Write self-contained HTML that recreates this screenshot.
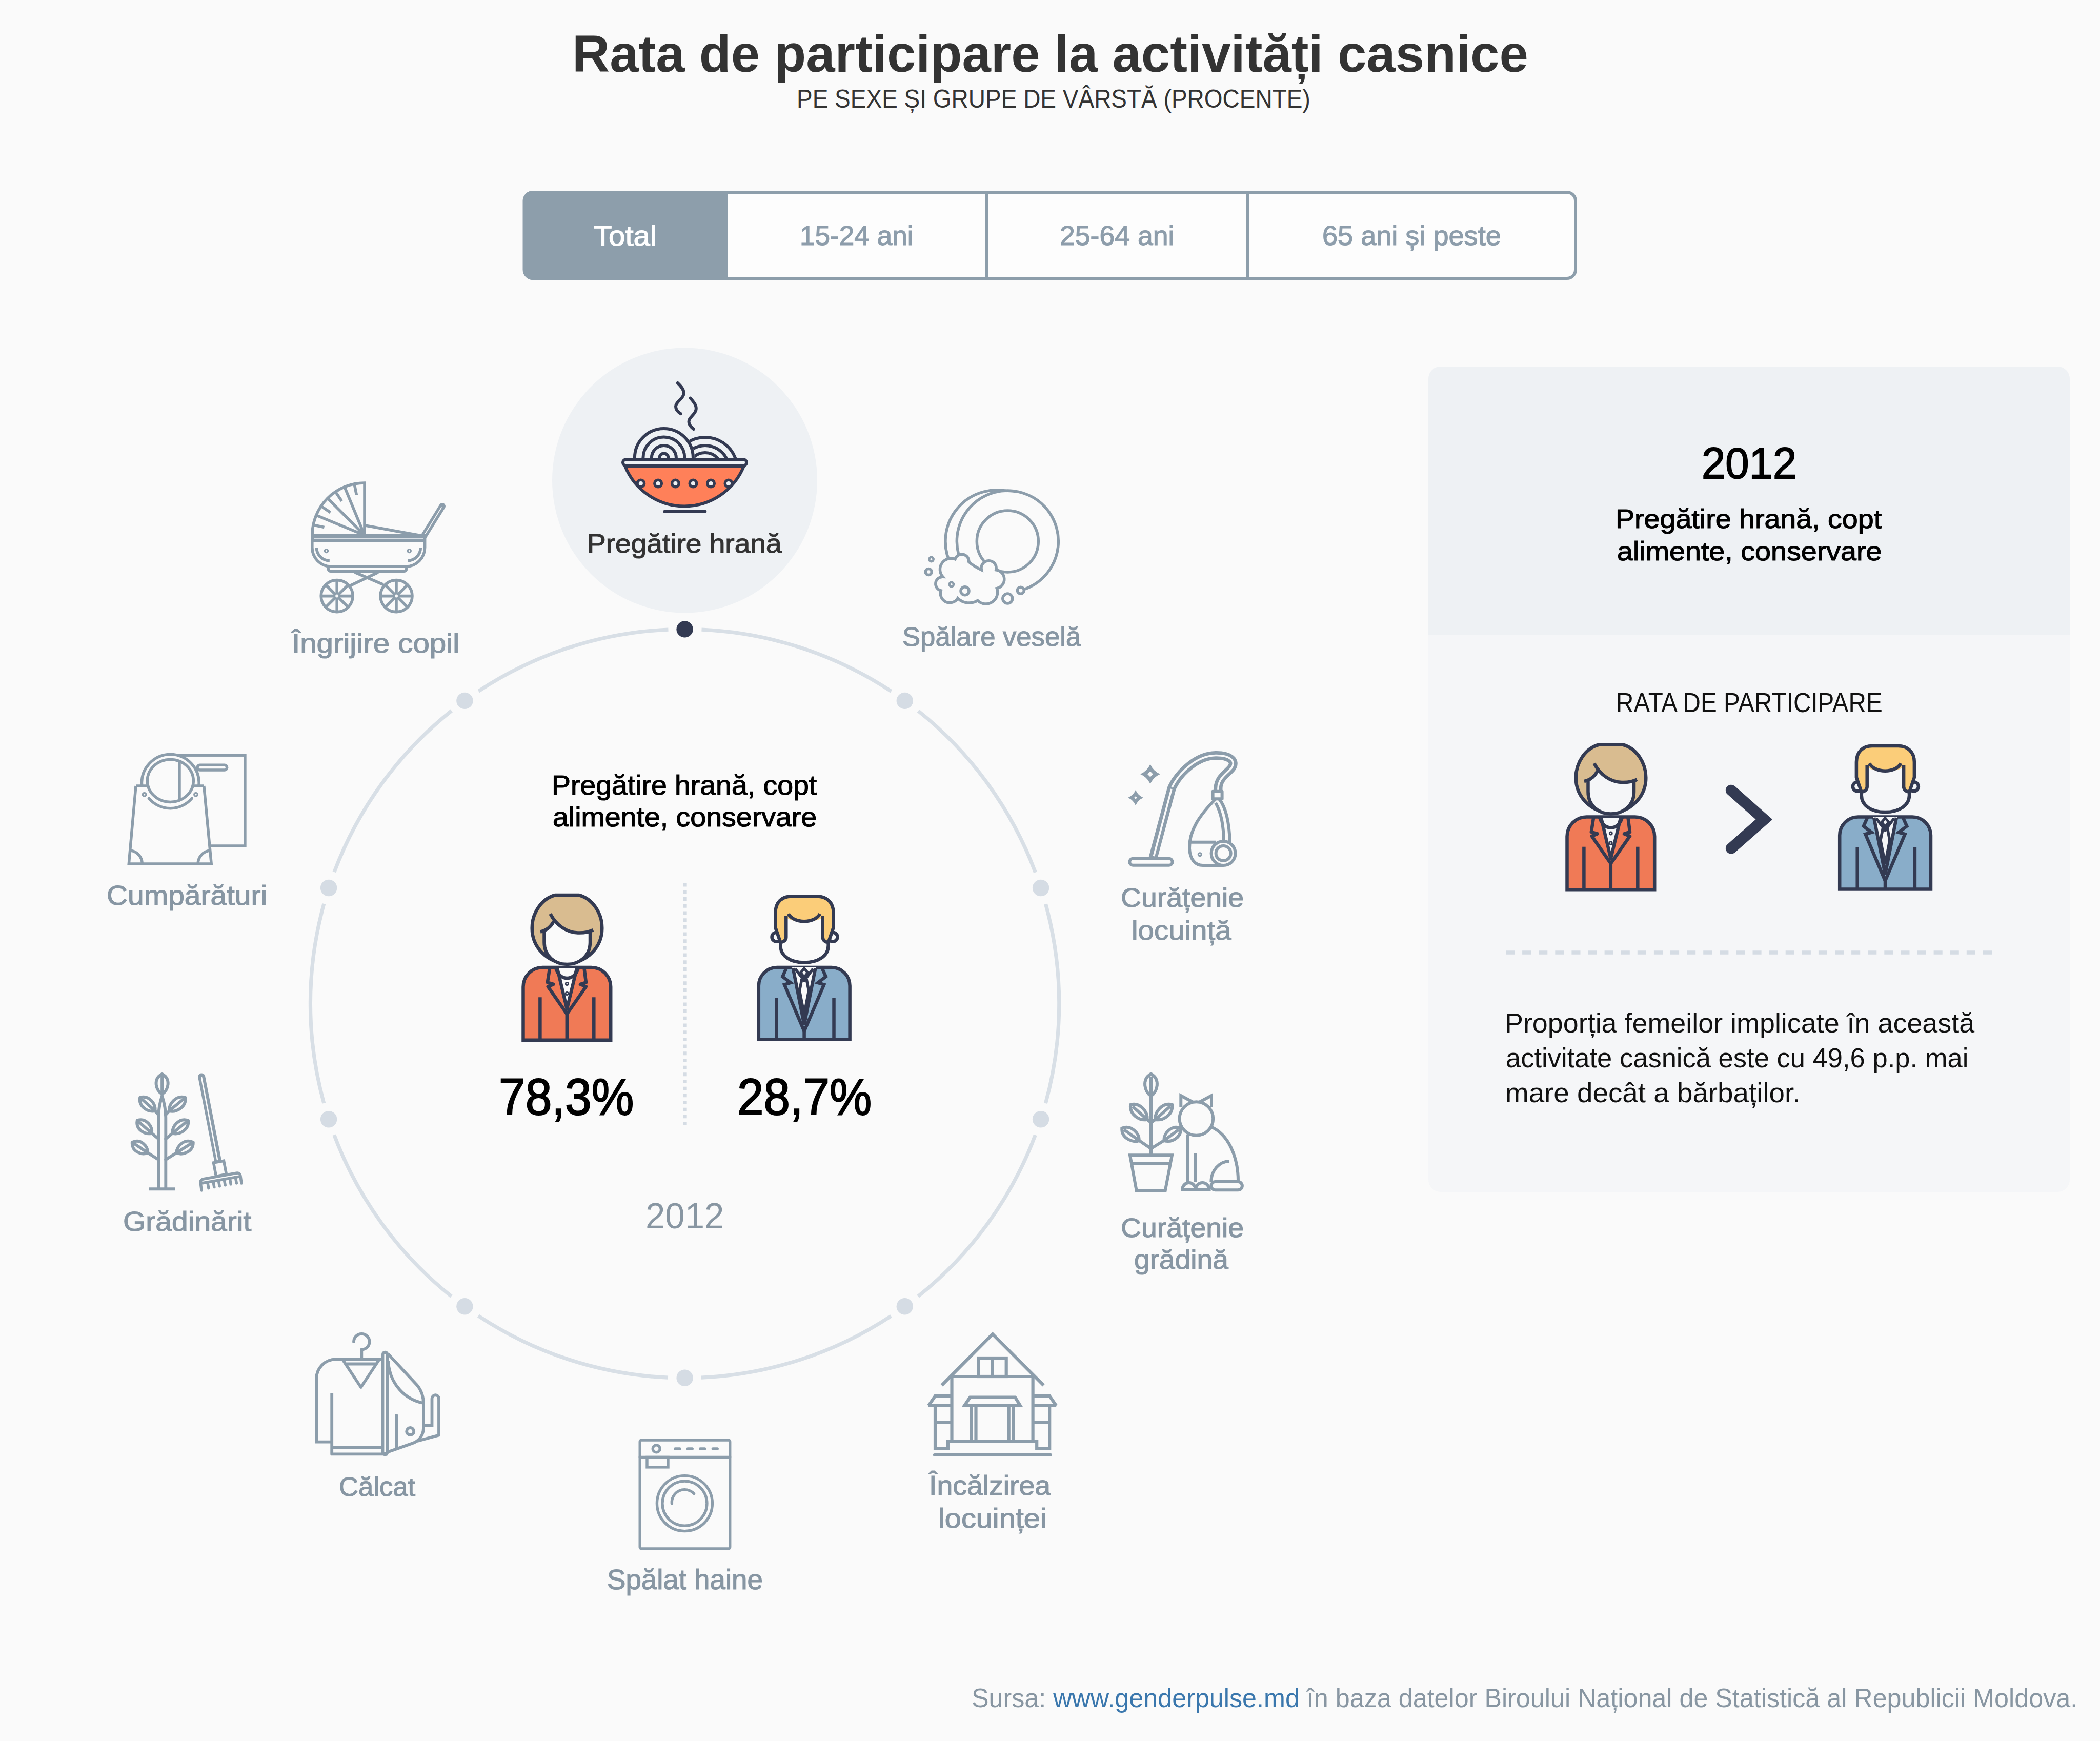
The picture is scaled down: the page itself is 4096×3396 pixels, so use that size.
<!DOCTYPE html>
<html><head><meta charset="utf-8"><title>Rata de participare la activități casnice</title>
<style>html,body{margin:0;padding:0;width:4096px;height:3396px;overflow:hidden;background:#fafafa}
.t{position:absolute;white-space:nowrap;line-height:1;font-family:"Liberation Sans",sans-serif;transform-origin:0 0;}</style></head><body>

<svg width="4096" height="3396" viewBox="0 0 4096 3396" style="position:absolute;left:0;top:0;--face:#fafafa">
 <!-- tabs -->
 <rect x="1022.5" y="375" width="2050.5" height="168" rx="17" fill="#fdfdfd" stroke="#8d9eab" stroke-width="6"/>
 <path d="M1420,372 L1040,372 A20,20 0 0 0 1020,392 L1020,526 A20,20 0 0 0 1040,546 L1420,546 Z" fill="#8d9eab"/>
 <path d="M1924.7,372 L1924.7,546 M2433.3,372 L2433.3,546" stroke="#8d9eab" stroke-width="6"/>
 <!-- highlight circle -->
 <circle cx="1335.5" cy="937" r="258.5" fill="#eef1f4"/>
 <circle cx="1335.6" cy="1957.6" r="730.2" fill="none" stroke="#d8dfe6" stroke-width="7.2" stroke-dasharray="393.80 65.00" stroke-dashoffset="196.90"/>
 <circle cx="1335.6" cy="1227.4" r="16.2" fill="#333a52"/><circle cx="1764.8" cy="1366.9" r="16.2" fill="#d5dce4"/><circle cx="2030.1" cy="1732.0" r="16.2" fill="#d5dce4"/><circle cx="2030.1" cy="2183.2" r="16.2" fill="#d5dce4"/><circle cx="1764.8" cy="2548.3" r="16.2" fill="#d5dce4"/><circle cx="1335.6" cy="2687.8" r="16.2" fill="#d5dce4"/><circle cx="906.4" cy="2548.3" r="16.2" fill="#d5dce4"/><circle cx="641.1" cy="2183.2" r="16.2" fill="#d5dce4"/><circle cx="641.1" cy="1732.0" r="16.2" fill="#d5dce4"/><circle cx="906.4" cy="1366.9" r="16.2" fill="#d5dce4"/>
 <path d="M1335.9,1722.7 L1335.9,2196" stroke="#d5dce4" stroke-width="7.5" stroke-dasharray="6.9 6.79"/>
 <!-- panel -->
 <rect x="2786" y="715" width="1251" height="1610" rx="24" fill="#f5f6f8"/>
 <path d="M2786,1239 L2786,739 A24,24 0 0 1 2810,715 L4013,715 A24,24 0 0 1 4037,739 L4037,1239 Z" fill="#eef1f4"/>
 <path d="M2937,1858 L3887,1858" stroke="#d5dce4" stroke-width="7.6" stroke-dasharray="17.1 15"/>
 <path d="M3376.7,1541.5 L3440.8,1598.4 L3376.7,1654.8" fill="none" stroke="#333a52" stroke-width="21.7" stroke-linecap="round" stroke-linejoin="miter"/>
 
<g fill="none" stroke="#333a52" stroke-width="6" stroke-linecap="round" stroke-linejoin="round">
 <path d="M1321.7,747 C1329,754 1335,761 1333.5,769 C1332,778 1318,784 1318,793 C1318,799 1323,804 1327.8,807"/>
 <path d="M1346.6,776.6 C1353,784 1359,791 1357.6,799 C1356,809 1343,814 1343.5,823 C1344,830 1349,834 1353,837"/>
 <path d="M1316.6,893 A63,63 0 0 1 1434,893"/>
 <path d="M1334.3,893 A47,47 0 0 1 1416.3,893"/>
 <path d="M1351.6,893 A33,33 0 0 1 1399,893"/>
 <path d="M1234.9,893 A60,60 0 0 1 1354.9,893 Z" fill="#eef1f4" stroke="none"/>
 <path d="M1237.9,893 A57,57 0 0 1 1351.9,893"/>
 <path d="M1254.4,893 A40.5,40.5 0 0 1 1335.4,893"/>
 <path d="M1270.9,893 A24,24 0 0 1 1318.9,893"/>
 <path d="M1286.4,893 A8.5,8.5 0 0 1 1303.4,893"/>
 <path d="M1219,909 A125,125 0 0 0 1451,909 Z" fill="#ff8059"/>
 <rect x="1215" y="896" width="241" height="12.5" rx="6.25" fill="#eef1f4"/>
 <g fill="#eef1f4" stroke-width="5.5">
  <circle cx="1249.8" cy="943" r="6.8"/><circle cx="1283.6" cy="943" r="6.8"/><circle cx="1317.4" cy="943" r="6.8"/>
  <circle cx="1352" cy="943" r="6.8"/><circle cx="1386.5" cy="943" r="6.8"/><circle cx="1421" cy="943" r="6.8"/>
 </g>
 <path d="M1296.5,997.7 L1375.3,997.7"/>
</g>
 
<g fill="none" stroke="#8c9dab" stroke-width="5.6" stroke-linejoin="miter">
 <path d="M711,1044 L711,942 A102,102 0 0 0 609,1044"/>
 <path d="M711,1044 L616.8,1005.0 M711,1044 L638.9,971.9 M711,1044 L672.0,949.8 M632.5,1028.4 L611.0,1024.1 M644.5,999.6 L626.2,987.3 M666.6,977.5 L654.3,959.2 M695.4,965.5 L691.1,944.0 "/>
 <path d="M713.6,1025.3 L818.5,1044.3"/>
 <path d="M826,1046.8 L862.7,987.4" stroke-width="12.5" stroke-linecap="round"/>
 <path d="M829.5,1041 L861,990" stroke="#fafafa" stroke-width="1.6" stroke-linecap="round"/>
 <rect x="611" y="1042" width="215" height="15.3" fill="#8c9dab" stroke="none"/>
 <path d="M612,1050.6 L825,1050.6" stroke="#d9dfe5" stroke-width="1.6"/>
 <path d="M608.8,1040 L608.8,1068 A37,37 0 0 0 645.8,1105 L791.6,1105 A37,37 0 0 0 828.6,1068 L828.6,1046"/>
 <path d="M617.5,1068.3 A25.3,25.3 0 0 0 642.8,1093.6 M795,1093.6 A25.3,25.3 0 0 0 820.3,1068.3"/>
 <circle cx="636.5" cy="1074.6" r="3.2" stroke-width="3"/><circle cx="798.3" cy="1074.6" r="3.2" stroke-width="3"/>
 <path d="M640,1105 L640,1108 Q640,1114.5 647,1114.5 L786,1114.5 Q793,1114.5 793,1108 L793,1105"/>
 <path d="M692,1116.4 L747.7,1140.4 M737.6,1116.4 L682,1142.9"/>
 <circle cx="657.2" cy="1162.6" r="31"/><path d="M688.2,1162.6 L626.2,1162.6"/><path d="M679.1,1140.7 L635.3,1184.5"/><path d="M657.2,1131.6 L657.2,1193.6"/><path d="M635.3,1140.7 L679.1,1184.5"/><circle cx="657.2" cy="1162.6" r="3" fill="#fafafa" stroke="none"/><circle cx="773.0" cy="1162.6" r="31"/><path d="M804.0,1162.6 L742.0,1162.6"/><path d="M794.9,1140.7 L751.1,1184.5"/><path d="M773.0,1131.6 L773.0,1193.6"/><path d="M751.1,1140.7 L794.9,1184.5"/><circle cx="773.0" cy="1162.6" r="3" fill="#fafafa" stroke="none"/>
</g>
 
<g fill="none" stroke="#8c9dab" stroke-width="5.5" stroke-linecap="round">
 <path d="M1978.2,962 A100,100 0 0 0 1857.4,1106"/>
 <circle cx="1965.3" cy="1056" r="96" fill="#fafafa" stroke="none"/>
 <path d="M1990.9,1151.6 A99,99 0 1 0 1869.7,1081.6"/>
 <circle cx="1965.3" cy="1056" r="60"/>
 <path fill="#fafafa" stroke-linejoin="miter" d="M1839,1125.2 A21.5,21.5 0 0 1 1862.9,1090.8 A13.8,13.8 0 0 1 1889.8,1096 Q1898,1104 1914.4,1111.7 A14.6,14.6 0 1 1 1942.8,1111.7 A18.2,18.2 0 0 1 1944.3,1147.6 A22.7,22.7 0 0 1 1906.9,1171.4 A31.7,31.7 0 0 1 1868.1,1167 A18.2,18.2 0 0 1 1835.2,1152 A13.6,13.6 0 0 1 1839,1125.2 Z"/>
 <circle cx="1816.5" cy="1091" r="4.2" stroke-width="4.5"/>
 <circle cx="1811.2" cy="1115.5" r="6"/>
 <circle cx="1855.8" cy="1140" r="4.2" stroke-width="4.5"/>
 <circle cx="1882" cy="1152.7" r="8"/>
 <circle cx="1965.3" cy="1167.6" r="9.5"/>
 <circle cx="1990.8" cy="1151.7" r="6.5" fill="#fafafa"/>
</g>
 
<g fill="none" stroke="#8c9dab" stroke-width="5.5">
 <rect x="350" y="1473.2" width="127.9" height="176.8" fill="#fafafa"/>
 <rect x="385" y="1492.3" width="57.7" height="9.8" rx="4.9"/>
 <path d="M276.8,1533 A55.8,55.8 0 1 1 387.8,1533" fill="#fafafa"/>
 <path d="M265,1533 L251.3,1685 L412.2,1685 L397.8,1533 Z" fill="#fafafa" stroke="none"/>
 <path d="M265,1533 L251.3,1685 L412.2,1685 L397.8,1533"/>
 <path d="M265,1533 L290,1533 M374.6,1533 L397.8,1533"/>
 <ellipse cx="332.3" cy="1523" rx="45" ry="41.5"/>
 <path d="M350,1483 L350,1562"/>
 <path d="M290.4,1557.2 A54.7,54.7 0 0 0 374.2,1557.2" stroke-linecap="round"/>
 <circle cx="281.6" cy="1549.8" r="3.3" stroke-width="3.2"/><circle cx="382" cy="1549.8" r="3.3" stroke-width="3.2"/>
 <path d="M253.6,1659 A26,26 0 0 1 277.3,1685 M386.2,1685 A26,26 0 0 1 410,1659"/>
</g>
 
<g fill="none" stroke="#8c9dab" stroke-width="6" stroke-linejoin="round">
 <rect x="2203.3" y="1674.7" width="83.3" height="13" rx="6.5"/>
 <path d="M2248.5,1675 L2285.5,1537 C2300,1506 2335,1474 2371,1473.5 C2398,1473 2412,1484 2402,1498 C2392,1510 2376,1518 2376,1538 L2376,1546" stroke-width="17"/>
 <path d="M2250.5,1670 L2285.5,1537 C2300,1506 2335,1474 2371,1473.5 C2398,1473 2412,1484 2402,1498 C2392,1510 2376,1518 2376,1538 L2376,1543" stroke="#fafafa" stroke-width="3.6"/>
 <path d="M2278,1535 L2293,1540" stroke-width="3"/>
 <rect x="2365.6" y="1543.8" width="18" height="14.4" fill="#fafafa"/>
 <path d="M2371,1558.5 C2340,1590 2319,1620 2320,1655 C2321,1676 2331,1688 2346,1688 L2385,1688" fill="#fafafa"/>
 <path d="M2378,1558.5 C2393,1577 2398,1610 2399,1645"/>
 <path d="M2371,1566 C2382,1585 2387,1615 2387,1645"/>
 <path d="M2321,1642.7 L2372,1642.7"/>
 <circle cx="2386.1" cy="1664.4" r="23.5" fill="#fafafa"/>
 <circle cx="2386.1" cy="1664.4" r="14.5"/>
 <circle cx="2340.3" cy="1666.8" r="3" stroke-width="3.2"/>
 <path d="M2243.5,1490.4 Q2249.3,1504.1 2263.0,1509.9 Q2249.3,1515.8 2243.5,1529.4 Q2237.7,1515.8 2224.0,1509.9 Q2237.7,1504.1 2243.5,1490.4 Z M2243.5,1504.4 L2238.0,1509.9 L2243.5,1515.4 L2249.0,1509.9 Z" fill="#8c9dab" fill-rule="evenodd" stroke="none"/>
 <path d="M2215.0,1541.0 Q2219.5,1551.5 2230.0,1556.0 Q2219.5,1560.5 2215.0,1571.0 Q2210.5,1560.5 2200.0,1556.0 Q2210.5,1551.5 2215.0,1541.0 Z M2215.0,1553.2 L2212.2,1556.0 L2215.0,1558.8 L2217.8,1556.0 Z" fill="#8c9dab" fill-rule="evenodd" stroke="none"/>
</g>
 
<g fill="none" stroke="#8c9dab" stroke-width="5.9" stroke-linecap="round" stroke-linejoin="round">
 <path d="M309.1,2317.6 L309.1,2180 C309.1,2165 312,2150 316.1,2137.5 C320,2150 323.3,2165 323.3,2180 L323.3,2317.6"/>
 <path d="M290.6,2319.3 L341.9,2319.3" stroke-linecap="butt"/>
 <path d="M316.1,2094.9 C298.1,2104.7 303.5,2126.3 316.1,2134.2 C328.7,2126.3 334.1,2104.7 316.1,2094.9 Z M316.1,2099.6 L316.1,2134.2"/>
 <path d="M273.1,2140.8 C269.9,2159.3 289.3,2170.1 302.6,2167.0 C304.1,2153.4 291.1,2135.4 273.1,2140.8 Z M276.6,2143.9 L302.6,2167.0 M302.6,2167.0 L309.1,2174.6"/><path d="M267.7,2185.5 C264.2,2203.7 282.9,2213.9 296.0,2210.6 C297.8,2197.2 285.4,2179.8 267.7,2185.5 Z M271.1,2188.5 L296.0,2210.6 M296.0,2210.6 L309.1,2221.5"/><path d="M257.8,2228.1 C256.5,2246.5 276.0,2253.9 288.4,2248.8 C288.5,2235.4 274.4,2220.1 257.8,2228.1 Z M261.5,2230.6 L288.4,2248.8 M288.4,2248.8 L309.1,2261.9"/><path d="M361.5,2140.8 C343.4,2135.1 329.1,2153.2 329.9,2167.0 C343.4,2170.4 363.8,2159.6 361.5,2140.8 Z M357.7,2143.9 L329.9,2167.0 M329.9,2167.0 L323.3,2174.6"/><path d="M367.0,2185.5 C349.2,2179.4 335.4,2196.9 336.4,2210.6 C349.6,2214.2 369.5,2204.1 367.0,2185.5 Z M363.3,2188.5 L336.4,2210.6 M336.4,2210.6 L323.3,2221.5"/><path d="M376.8,2228.1 C360.1,2219.8 344.7,2235.2 344.1,2248.8 C356.6,2254.1 377.2,2246.8 376.8,2228.1 Z M372.9,2230.6 L344.1,2248.8 M344.1,2248.8 L323.3,2261.9"/>
 <path d="M393.2,2100.4 L425,2264" stroke-width="14"/>
 <path d="M393.2,2102 L424,2262" stroke="#fafafa" stroke-width="2.6"/>
 <path d="M416.5,2268 L436.5,2264.3 L441.5,2290.5 L421.5,2294.4 Z" stroke-width="5.5" fill="#fafafa" stroke-linejoin="miter"/>
 <path d="M393.1,2322 L391.3,2308 Q390.3,2301 397,2299.7 L461,2288.2 Q468,2287 469,2294 L471,2308" stroke-width="5.5" fill="none"/>
 <path d="M395,2307.8 L465,2295.4" stroke-width="5.5"/>
 <path d="M404.8,2306.1 L406.8,2317.6 M415.8,2304.1 L417.8,2315.6 M426.2,2302.3 L428.2,2313.8 M437.2,2300.3 L439.2,2311.8 M448.2,2298.4 L450.2,2309.9 M459.3,2296.4 L461.3,2307.9 " stroke-width="5.5"/>
</g>
 
<g fill="none" stroke="#8c9dab" stroke-width="6" stroke-linejoin="miter">
 <path d="M2204,2253.3 L2286,2253.3 L2272.7,2322.5 L2216.7,2322.5 Z M2207,2269.4 L2283,2269.4"/>
 <path d="M2245,2113.8 L2245,2253.3"/>
 <path d="M2245.0,2094.5 C2226.4,2105.3 2232.0,2129.2 2245.0,2137.9 C2258.0,2129.2 2263.6,2105.3 2245.0,2094.5 Z M2245.0,2099.7 L2245.0,2137.9"/>
 <path d="M2205.2,2154.8 C2202.3,2174.5 2223.5,2186.7 2237.7,2183.8 C2238.9,2169.3 2224.4,2149.6 2205.2,2154.8 Z M2209.1,2158.3 L2237.7,2183.8 M2237.7,2183.8 L2245.0,2189.8"/><path d="M2286.0,2154.8 C2266.8,2149.6 2252.2,2169.3 2253.4,2183.8 C2267.7,2186.7 2288.9,2174.5 2286.0,2154.8 Z M2282.1,2158.3 L2253.4,2183.8 M2253.4,2183.8 L2245.0,2189.8"/><path d="M2188.3,2200.7 C2187.1,2220.2 2208.5,2229.4 2222.0,2224.8 C2222.0,2210.5 2206.4,2193.2 2188.3,2200.7 Z M2192.3,2203.6 L2222.0,2224.8 M2222.0,2224.8 L2245.0,2240.5"/><path d="M2302.9,2200.7 C2284.9,2193.4 2269.9,2210.6 2270.3,2224.8 C2283.7,2229.3 2304.6,2220.1 2302.9,2200.7 Z M2299.0,2203.6 L2270.3,2224.8 M2270.3,2224.8 L2245.0,2240.5"/>
 <path d="M2303.3,2160 L2303.3,2137 L2327,2150 M2339,2150 L2363,2137 L2363,2160"/>
 <circle cx="2333.4" cy="2182" r="32.8" fill="#fafafa"/>
 <path d="M2316.2,2213 L2316.2,2320"/>
 <path d="M2362,2198 C2395,2212 2415,2255 2415,2304"/>
 <path d="M2331.8,2250 L2331.8,2306"/>
 <path d="M2362.4,2305 A36,40 0 0 1 2398,2265"/>
 <path d="M2306,2321 A13,14 0 0 1 2332,2321 A13.3,14 0 0 1 2358.6,2321 Z" fill="#fafafa"/>
 <rect x="2362.4" y="2305" width="60.5" height="16.2" rx="8.1" fill="#fafafa"/>
</g>
 
<g fill="none" stroke="#8c9dab" stroke-width="5.8" stroke-linejoin="round">
 <path d="M690,2617.2 A15.3,15.3 0 1 1 705.3,2632.5 L705.3,2651" stroke-linecap="round"/>
 <path d="M745.4,2651.3 L655,2651.3 A37.8,37.8 0 0 0 617.2,2689 L617.2,2812.6 L647.2,2812.6" stroke-linejoin="miter"/>
 <path d="M647.2,2717.5 L647.2,2836.4 L756,2836.4 M647.2,2824 L745.4,2824"/>
 <path d="M668.9,2653 L704,2706 L739,2653 M674,2660.5 L733,2660.5"/>
 <path d="M757,2641 L813.6,2702 C822,2712 826,2725 826,2739 L826,2785 C826,2800 817,2812 803.3,2815.7 L756.8,2832.2" fill="#fafafa"/>
 <path d="M751.1,2642 L751.1,2833" stroke-width="14.5" stroke-linecap="round"/>
 <path d="M751.1,2642 L751.1,2833" stroke="#fafafa" stroke-width="3.4"/>
 <path d="M757,2655 C760,2700 790,2730 826,2737"/>
 <path d="M773.3,2761 L773.3,2823" stroke-linecap="round"/>
 <circle cx="800.2" cy="2792" r="7"/>
 <path d="M826,2780.5 L842.5,2780.5 L842.5,2728 A6.7,6.7 0 0 1 856,2728 L856,2799.5 L814,2811" stroke-linejoin="miter"/>
</g>
 
<g fill="none" stroke="#8c9dab" stroke-width="5.4" stroke-linecap="round">
 <rect x="1248.2" y="2809" width="175.5" height="212" rx="3"/>
 <path d="M1248.2,2842.5 L1423.7,2842.5"/>
 <circle cx="1280.2" cy="2825.9" r="7"/>
 <path d="M1317,2825.9 L1325.8,2825.9 M1341.4,2825.9 L1350.2,2825.9 M1365.8,2825.9 L1374.6,2825.9 M1390.4,2825.9 L1399.2,2825.9" stroke-width="5.5"/>
 <rect x="1262" y="2842.5" width="41" height="19.4" stroke-linecap="butt"/>
 <circle cx="1335.4" cy="2932.6" r="54"/>
 <circle cx="1335.4" cy="2932.6" r="43.5"/>
 <path d="M1310.4,2933 A25,25 0 0 1 1353.5,2913.5"/>
</g>
 
<g fill="none" stroke="#8c9dab" stroke-width="6.2" stroke-linejoin="miter">
 <path d="M1836.8,2702.2 L1936,2602.2 L2035.6,2702.2" stroke-linecap="butt"/>
 <path d="M1856.5,2685 L2014.6,2685 M1856.5,2682 L1856.5,2812 M2014.6,2682 L2014.6,2812 M1849,2812 L2022,2812"/>
 <rect x="1908.4" y="2649" width="54.3" height="36"/>
 <path d="M1935.5,2649 L1935.5,2685"/>
 <polyline points="1851.6,2812.0 1849.0,2812.0 1849.0,2825.7 1824.0,2825.7 1824.0,2742.0"/>
 <polyline points="2019.6,2812.0 2022.2,2812.0 2022.2,2825.7 2047.2,2825.7 2047.2,2742.0"/>
 <path d="M1811,2742 L1824,2723.2 L1856.5,2723.2 M1811,2742 L1856.5,2742 M1824,2775 L1856.5,2775"/>
 <path d="M2060.2,2742 L2047.2,2723.2 L2014.6,2723.2 M2060.2,2742 L2014.6,2742 M2047.2,2775 L2014.6,2775"/>
 <path d="M1881,2742 L1892,2725.7 L1980,2725.7 L1990,2742 Z"/>
 <path d="M1894.8,2742 L1894.8,2812 M1903.5,2742 L1903.5,2812 M1967.7,2742 L1967.7,2812 M1976.3,2742 L1976.3,2812"/>
 <path d="M1823,2838 L2049,2838" stroke-linecap="round"/>
</g>
 
<g id="woman" stroke="#333a52" stroke-width="6.5" stroke-linejoin="round">
 <path d="M1020.5,2028.8 L1020.5,1925 A38,38 0 0 1 1058.5,1887 L1153.2,1887 A38,38 0 0 1 1191.2,1925 L1191.2,2028.8 Z" fill="#f07a56" stroke-linejoin="miter"/>
 <path d="M1087,1889 L1105.8,1968 L1125,1889 Z" fill="var(--face)" stroke="none"/>
 <path d="M1084,1888 C1088,1902 1097,1908 1106,1908 C1115,1908 1124,1902 1128,1888" fill="none"/>
 <path d="M1072.3,1887.4 L1067.8,1916.3 L1079.6,1919.9 L1068.7,1924.4 L1105.8,1977.8 L1143,1924.4 L1132,1919.9 L1143,1916.3 L1139.3,1887.4" fill="none"/>
 <path d="M1087,1889 L1105.8,1968 L1125,1889" fill="none"/>
 <circle cx="1105.8" cy="1919" r="2.6" fill="var(--face)" stroke-width="2.6"/>
 <circle cx="1105.8" cy="1938" r="2.6" fill="var(--face)" stroke-width="2.6"/>
 <path d="M1105.8,1977.8 L1105.8,2028 M1053.4,1945.2 L1053.4,2028 M1158.3,1945.2 L1158.3,2028" fill="none"/>
 <path d="M1083,1746 L1129,1746 C1156,1753 1174.3,1781 1174.3,1810.5 A68.3,68.3 0 0 1 1037.7,1810.5 C1037.7,1781 1056,1753 1083,1746 Z" fill="#d9bc90"/>
 <path d="M1061.5,1816 C1068,1812 1075,1805 1079.6,1797 C1090,1812 1110,1819 1130,1819 C1140,1819 1148,1817 1151,1816 L1151,1838 C1151,1865 1130,1881 1106,1881 C1082,1881 1061.5,1865 1061.5,1838 Z" fill="var(--face)" stroke="none"/>
 <path d="M1061.5,1816 L1061.5,1838 C1061.5,1865 1082,1881 1106,1881 C1130,1881 1151,1865 1151,1838 L1151,1814" fill="none"/>
 <path d="M1054,1817.5 C1066,1815 1075,1807 1080,1797" fill="none" stroke-linecap="butt"/>
 <path d="M1073.3,1782.5 C1085,1805 1105,1818.5 1127,1819.5 C1140,1820 1150,1817.5 1157,1814" fill="none" stroke-linecap="butt"/>
</g>
 
<g id="man" stroke="#333a52" stroke-width="6.5" stroke-linejoin="round">
 <path d="M1479.8,2027.8 L1479.8,1923 A36,36 0 0 1 1515.8,1887 L1621.6,1887 A36,36 0 0 1 1657.6,1923 L1657.6,2027.8 Z" fill="#89adc9" stroke-linejoin="miter"/>
 <path d="M1545,1887 L1568.6,1980 L1592,1887 Z" fill="var(--face)" stroke="none"/>
 <path d="M1533.8,1888.4 L1526.4,1905 L1542,1917 L1530,1920.5 L1568.6,2011.5 L1607.2,1920.5 L1595.2,1917 L1610.8,1905 L1603.4,1888.4" fill="none" stroke-linejoin="miter"/>
 <path d="M1546.7,1888.4 L1568.6,1998.7 L1590.5,1888.4" fill="none" stroke-linejoin="miter"/>
 <path d="M1563.5,1912 L1559.5,1932.5 L1568.6,1978.5 L1577.5,1932.5 L1573.5,1912 Z" fill="var(--face)" stroke-width="5.5" stroke-linejoin="miter"/>
 <path d="M1551,1889.5 L1568.6,1913 L1586,1889.5" fill="none" stroke-width="5.5"/>
 <path d="M1568.6,1889 L1575.5,1897 L1568.6,1906 L1561.7,1897 Z" fill="var(--face)" stroke-width="5"/>
 <path d="M1568.6,2008 L1568.6,2027 M1514.3,1946.2 L1514.3,2027 M1626.5,1946.2 L1626.5,2027" fill="none"/>
 <circle cx="1514.5" cy="1827.7" r="9" fill="var(--face)"/>
 <circle cx="1624.5" cy="1827.7" r="9" fill="var(--face)"/>
 <path d="M1522.4,1838.6 L1512.5,1809.6 L1512.5,1780 C1512.5,1760 1525,1748.5 1543.2,1748.5 L1593.9,1748.5 C1612,1748.5 1625.5,1760 1625.5,1780 L1625.5,1809.6 L1615.6,1838.6 Z" fill="#fbcd79"/>
 <path d="M1533.3,1789 C1545,1801 1592,1801 1604.7,1789 L1604.7,1828 C1604.7,1834 1610,1838 1615.6,1838 L1615.6,1845 C1615.6,1865 1595,1877.5 1568.6,1877.5 C1542,1877.5 1522.4,1865 1522.4,1845 L1522.4,1838 C1528,1838 1533.3,1834 1533.3,1828 Z" fill="var(--face)" stroke="none"/><path d="M1533.3,1786 L1533.3,1828 C1533.3,1834 1528,1838 1522.4,1838 L1522.4,1845 C1522.4,1865 1542,1877.5 1568.6,1877.5 C1595,1877.5 1615.6,1865 1615.6,1845 L1615.6,1838 C1610,1838 1604.7,1834 1604.7,1828 L1604.7,1786" fill="none"/>
 <path d="M1537.8,1782.5 C1548,1802 1589,1802 1599.3,1782.5" fill="none" stroke-linecap="butt"/>
</g>
 <use href="#woman" transform="translate(2036,-293.5)" style="--face:#f5f6f8"/>
 <use href="#man" transform="translate(2108.4,-293.4)" style="--face:#f5f6f8"/>
</svg>
<div class="t" style="left:1116.02px;top:54.85px;font-size:101.75px;color:#333333;font-weight:700;transform:scaleX(0.9962)">Rata de participare la activități casnice</div>
<div class="t" style="left:1554.28px;top:168.16px;font-size:49.42px;color:#333333;font-weight:400;transform:scaleX(0.9308)">PE SEXE ȘI GRUPE DE VÂRSTĂ (PROCENTE)</div>
<div class="t" style="left:1158.00px;top:433.23px;font-size:55.23px;color:#ffffff;font-weight:400;-webkit-text-stroke:1.22px currentColor;transform:scaleX(1.0526)">Total</div>
<div class="t" style="left:1560.04px;top:433.47px;font-size:53.78px;color:#8d9dab;font-weight:400;-webkit-text-stroke:1.18px currentColor;transform:scaleX(0.9885)">15-24 ani</div>
<div class="t" style="left:2067.01px;top:433.47px;font-size:53.78px;color:#8d9dab;font-weight:400;-webkit-text-stroke:1.18px currentColor;transform:scaleX(0.9964)">25-64 ani</div>
<div class="t" style="left:2578.99px;top:433.47px;font-size:53.78px;color:#8d9dab;font-weight:400;-webkit-text-stroke:1.18px currentColor;transform:scaleX(1.0058)">65 ani și peste</div>
<div class="t" style="left:1144.61px;top:1035.11px;font-size:51.60px;color:#333333;font-weight:400;-webkit-text-stroke:1.14px currentColor;transform:scaleX(1.0672)">Pregătire hrană</div>
<div class="t" style="left:569.49px;top:1229.79px;font-size:51.75px;color:#8796a3;font-weight:400;-webkit-text-stroke:1.14px currentColor;transform:scaleX(1.1261)">Îngrijire copil</div>
<div class="t" style="left:1759.99px;top:1215.70px;font-size:52.33px;color:#8796a3;font-weight:400;-webkit-text-stroke:1.15px currentColor;transform:scaleX(1.0058)">Spălare veselă</div>
<div class="t" style="left:207.88px;top:1720.47px;font-size:53.78px;color:#8796a3;font-weight:400;-webkit-text-stroke:1.18px currentColor;transform:scaleX(1.0584)">Cumpărături</div>
<div class="t" style="left:2185.88px;top:1724.70px;font-size:52.33px;color:#8796a3;font-weight:400;-webkit-text-stroke:1.15px currentColor;transform:scaleX(1.0583)">Curățenie</div>
<div class="t" style="left:2206.76px;top:1788.70px;font-size:52.33px;color:#8796a3;font-weight:400;-webkit-text-stroke:1.15px currentColor;transform:scaleX(1.0787)">locuință</div>
<div class="t" style="left:239.91px;top:2355.94px;font-size:53.93px;color:#8796a3;font-weight:400;-webkit-text-stroke:1.19px currentColor;transform:scaleX(1.0572)">Grădinărit</div>
<div class="t" style="left:2185.88px;top:2368.70px;font-size:52.33px;color:#8796a3;font-weight:400;-webkit-text-stroke:1.15px currentColor;transform:scaleX(1.0583)">Curățenie</div>
<div class="t" style="left:2212.32px;top:2431.40px;font-size:52.33px;color:#8796a3;font-weight:400;-webkit-text-stroke:1.15px currentColor;transform:scaleX(1.0529)">grădină</div>
<div class="t" style="left:660.79px;top:2873.70px;font-size:52.33px;color:#8796a3;font-weight:400;-webkit-text-stroke:1.15px currentColor;transform:scaleX(1.0062)">Călcat</div>
<div class="t" style="left:1184.00px;top:3055.33px;font-size:54.65px;color:#8796a3;font-weight:400;-webkit-text-stroke:1.20px currentColor;">Spălat haine</div>
<div class="t" style="left:1811.88px;top:2871.47px;font-size:53.78px;color:#8796a3;font-weight:400;-webkit-text-stroke:1.18px currentColor;transform:scaleX(1.0308)">Încălzirea</div>
<div class="t" style="left:1829.78px;top:2935.47px;font-size:53.78px;color:#8796a3;font-weight:400;-webkit-text-stroke:1.18px currentColor;transform:scaleX(1.0729)">locuinței</div>
<div class="t" style="left:1075.89px;top:1504.53px;font-size:53.34px;color:#000000;font-weight:400;-webkit-text-stroke:1.17px currentColor;transform:scaleX(1.0383)">Pregătire hrană, copt</div>
<div class="t" style="left:1077.96px;top:1566.63px;font-size:53.34px;color:#000000;font-weight:400;-webkit-text-stroke:1.17px currentColor;transform:scaleX(1.0406)">alimente, conservare</div>
<div class="t" style="left:973.46px;top:2089.43px;font-size:100.00px;color:#000000;font-weight:400;-webkit-text-stroke:2.20px currentColor;transform:scaleX(0.9284)">78,3%</div>
<div class="t" style="left:1437.66px;top:2089.43px;font-size:100.00px;color:#000000;font-weight:400;-webkit-text-stroke:2.20px currentColor;transform:scaleX(0.9245)">28,7%</div>
<div class="t" style="left:1259.06px;top:2337.14px;font-size:70.35px;color:#8896a2;font-weight:400;transform:scaleX(0.9800)">2012</div>
<div class="t" style="left:3318.89px;top:861.37px;font-size:85.90px;color:#000000;font-weight:400;-webkit-text-stroke:1.89px currentColor;transform:scaleX(0.9692)">2012</div>
<div class="t" style="left:3150.79px;top:985.64px;font-size:52.04px;color:#000000;font-weight:400;-webkit-text-stroke:1.14px currentColor;transform:scaleX(1.0684)">Pregătire hrană, copt</div>
<div class="t" style="left:3153.93px;top:1048.94px;font-size:52.04px;color:#000000;font-weight:400;-webkit-text-stroke:1.14px currentColor;transform:scaleX(1.0694)">alimente, conservare</div>
<div class="t" style="left:3152.47px;top:1343.42px;font-size:54.07px;color:#111111;font-weight:400;transform:scaleX(0.8812)">RATA DE PARTICIPARE</div>
<div class="t" style="left:2934.75px;top:1968.96px;font-size:53.20px;color:#111111;font-weight:400;transform:scaleX(1.0128)">Proporția femeilor implicate în această</div>
<div class="t" style="left:2937.02px;top:2036.66px;font-size:53.20px;color:#111111;font-weight:400;transform:scaleX(0.9877)">activitate casnică este cu 49,6 p.p. mai</div>
<div class="t" style="left:2935.91px;top:2105.16px;font-size:53.20px;color:#111111;font-weight:400;transform:scaleX(1.0299)">mare decât a bărbaților.</div>
<div class="t" style="left:1894.64px;top:3287.30px;font-size:51.02px;color:#8896a2;font-weight:400;transform:scaleX(0.9854)">Sursa: <span style="color:#3a77ad">www.genderpulse.md</span> în baza datelor Biroului Național de Statistică al Republicii Moldova.</div>
</body></html>
